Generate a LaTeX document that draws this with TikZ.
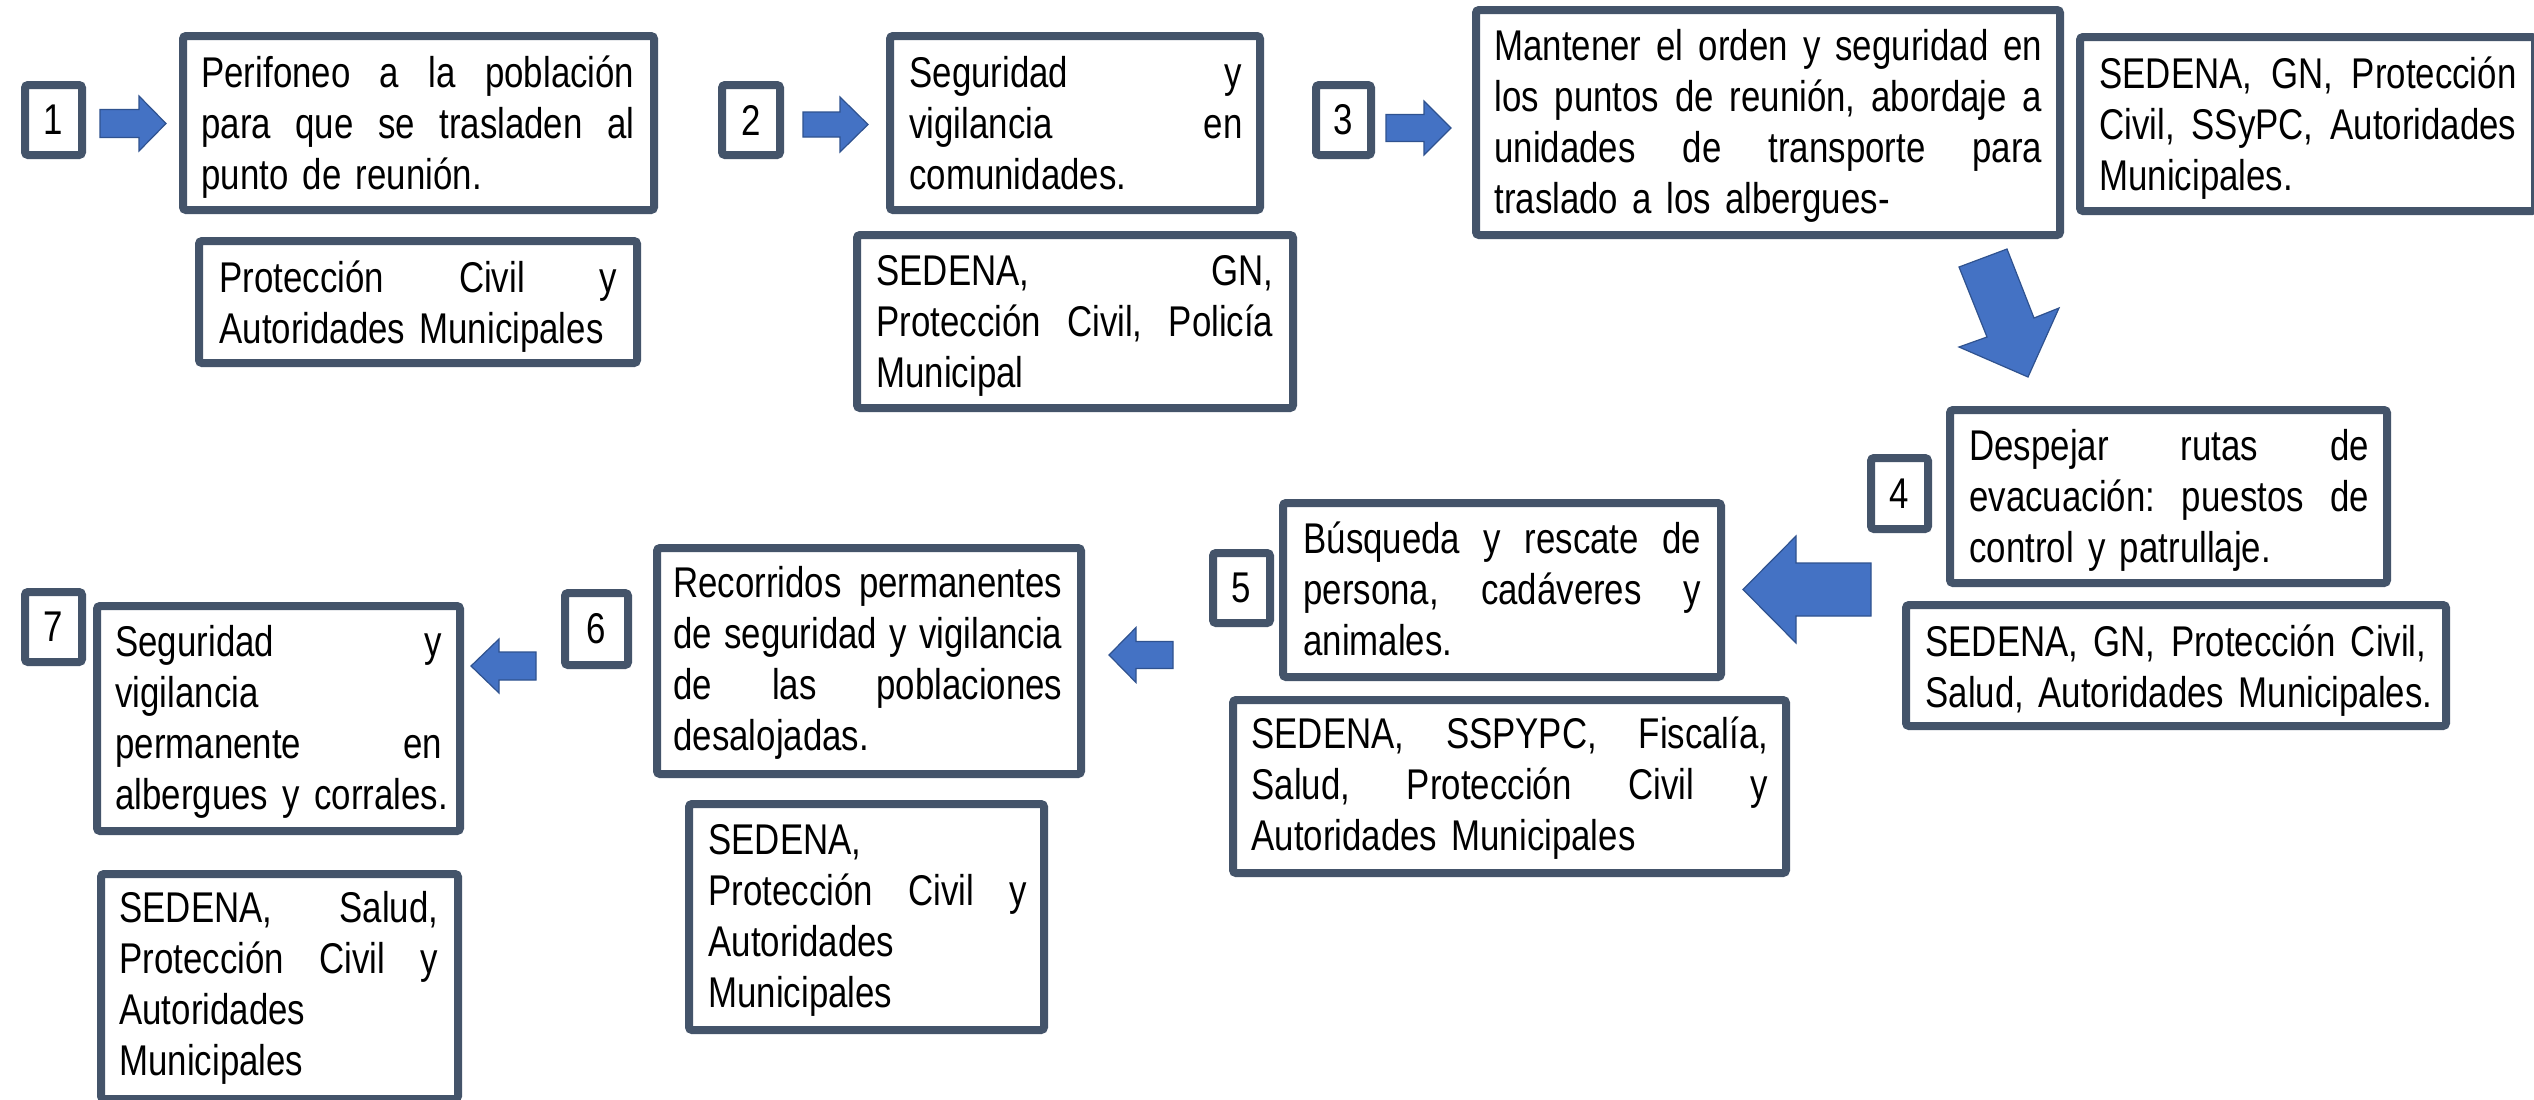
\documentclass[tikz,border=0pt]{standalone}
\usepackage{fontspec}
\setmainfont{Liberation Sans}[FakeStretch=0.81]
\usetikzlibrary{fit}
\definecolor{frameclr}{HTML}{44546A}
\definecolor{arrfill}{HTML}{4472C4}
\definecolor{arrline}{HTML}{2F528F}
\newcommand\bodyfont{\fontsize{21.5pt}{25.5pt}\selectfont}
\newcommand\tstr{\rule{0pt}{20pt}}
\newcommand\g{\hskip 0.225em plus 1fil\relax}
\newcommand\jline[1]{\noindent\hbox to\hsize{\tstr #1}\par}
\newcommand\lline[1]{\noindent\hbox{\tstr #1}\par}
\newcommand\frm[5]{\node[frame, fit={({#2+4},{#3+4}) ({#4-4},{#5-4})}] (#1) {};}
\newcommand\rarr[6]{\draw[blockarrow] ({#1},{#4-#5}) -- ({#2},{#4-#5}) -- ({#2},{#4-#6}) -- ({#3},{#4}) -- ({#2},{#4+#6}) -- ({#2},{#4+#5}) -- ({#1},{#4+#5}) -- cycle;}
\tikzset{
  frame/.style={draw=frameclr, line width=4pt, rounded corners=1.5pt, inner sep=0pt, fill=white},
  txt/.style={inner sep=0pt, anchor=north west, font=\bodyfont},
  numtxt/.style={inner sep=0pt, font=\bodyfont},
  blockarrow/.style={fill=arrfill, draw=arrline, line width=0.6pt, line join=miter}
}
\begin{document}
\begin{tikzpicture}[x=0.5pt, y=-0.5pt]
\useasboundingbox (0,0) rectangle (2534,1099);
\fill[white] (0,0) rectangle (2534,1099);

% ---------- row 1 ----------
\frm{n1}{21}{81}{86}{159}
\node[numtxt] (n1t) at (n1.center) {1};
\rarr{100}{139}{166}{123.5}{14}{27.5}
\frm{p1}{179}{32}{658}{214}
\node[txt, text width=216.5pt] (p1t) at (201,47) {\jline{Perifoneo\g a\g la\g población}\jline{para\g que\g se\g trasladen\g al}\lline{punto de reunión.}};
\frm{r1}{195}{237}{641}{367}
\node[txt, text width=199pt] (r1t) at (219,252) {\jline{Protección\g Civil\g y}\lline{Autoridades Municipales}};

\frm{n2}{718}{81}{784}{159}
\node[numtxt] (n2t) at (n2.center) {2};
\rarr{803}{840}{868}{124.5}{12.5}{27.5}
\frm{s2}{886}{32}{1264}{214}
\node[txt, text width=166.5pt] (s2t) at (909,47) {\jline{Seguridad\g y}\jline{vigilancia\g en}\lline{comunidades.}};
\frm{r2}{853}{231}{1297}{412}
\node[txt, text width=198.5pt] (r2t) at (876,245) {\jline{SEDENA,\g GN,}\jline{Protección\g Civil,\g Policía}\lline{Municipal}};

\frm{n3}{1312}{81}{1375}{159}
\node[numtxt] (n3t) at (n3.center) {3};
\rarr{1386}{1424}{1451}{128}{13.5}{27}
\frm{s3}{1472}{6}{2064}{239}
\node[txt, text width=274pt] (s3t) at (1494,20) {\jline{Mantener\g el\g orden\g y\g seguridad\g en}\jline{los\g puntos\g de\g reunión,\g abordaje\g a}\jline{unidades\g de\g transporte\g para}\lline{traslado a los albergues-}};
\frm{r3}{2076}{33}{2539}{215}
\node[txt, text width=208.5pt] (r3t) at (2099,48) {\jline{SEDENA,\g GN,\g Protección}\jline{Civil,\g SSyPC,\g Autoridades}\lline{Municipales.}};

% down arrow
\draw[blockarrow] (1959,267) -- (1987,337) -- (1959,347) -- (2028,377) -- (2059,308) -- (2034,318) -- (2007,249) -- cycle;

% ---------- row 2 ----------
\frm{n4}{1867}{454}{1932}{533}
\node[numtxt] (n4t) at (n4.center) {4};
\frm{d4}{1946}{406}{2391}{587}
\node[txt, text width=200pt] (d4t) at (1969,420) {\jline{Despejar\g rutas\g de}\jline{evacuación:\g puestos\g de}\lline{control y patrullaje.}};
\frm{r4}{1902}{601}{2450}{730}
\node[txt, text width=250.5pt] (r4t) at (1925,616) {\jline{SEDENA,\g GN,\g Protección\g Civil,}\lline{Salud, Autoridades Municipales.}};

\rarr{1871}{1796}{1743}{589.5}{26.5}{53.5}

\frm{n5}{1209}{549}{1274}{627}
\node[numtxt] (n5t) at (n5.center) {5};
\frm{b5}{1279}{499}{1725}{681}
\node[txt, text width=199pt] (b5t) at (1303,513) {\jline{Búsqueda\g y\g rescate\g de}\jline{persona,\g cadáveres\g y}\lline{animales.}};
\frm{r5}{1229}{696}{1790}{877}
\node[txt, text width=258.5pt] (r5t) at (1251,708) {\jline{SEDENA,\g SSPYPC,\g Fiscalía,}\jline{Salud,\g Protección\g Civil\g y}\lline{Autoridades Municipales}};

\rarr{1173}{1136}{1109}{655}{13.5}{27.5}

\frm{n6}{561}{589}{632}{669}
\node[numtxt] (n6t) at (n6.center) {6};
\frm{rec6}{653}{544}{1085}{778}
\node[txt, text width=194.5pt] (rec6t) at (673,557) {\jline{Recorridos\g permanentes}\jline{de\g seguridad\g y\g vigilancia}\jline{de\g las\g poblaciones}\lline{desalojadas.}};
\frm{r6}{685}{800}{1048}{1034}
\node[txt, text width=159.5pt] (r6t) at (708,814) {\lline{SEDENA,}\jline{Protección\g Civil\g y}\lline{Autoridades}\lline{Municipales}};

\rarr{536}{499}{471}{666}{14}{27}

\frm{n7}{21}{588}{86}{666}
\node[numtxt] (n7t) at (n7.center) {7};
\frm{seg7}{93}{602}{464}{835}
\node[txt, text width=163.5pt] (seg7t) at (115,616) {\jline{Seguridad\g y}\lline{vigilancia}\jline{permanente\g en}\lline{albergues y corrales.}};
\frm{r7}{97}{870}{462}{1103}
\node[txt, text width=159.5pt] (r7t) at (119,882) {\jline{SEDENA,\g Salud,}\jline{Protección\g Civil\g y}\lline{Autoridades}\lline{Municipales}};
\end{tikzpicture}
\end{document}
